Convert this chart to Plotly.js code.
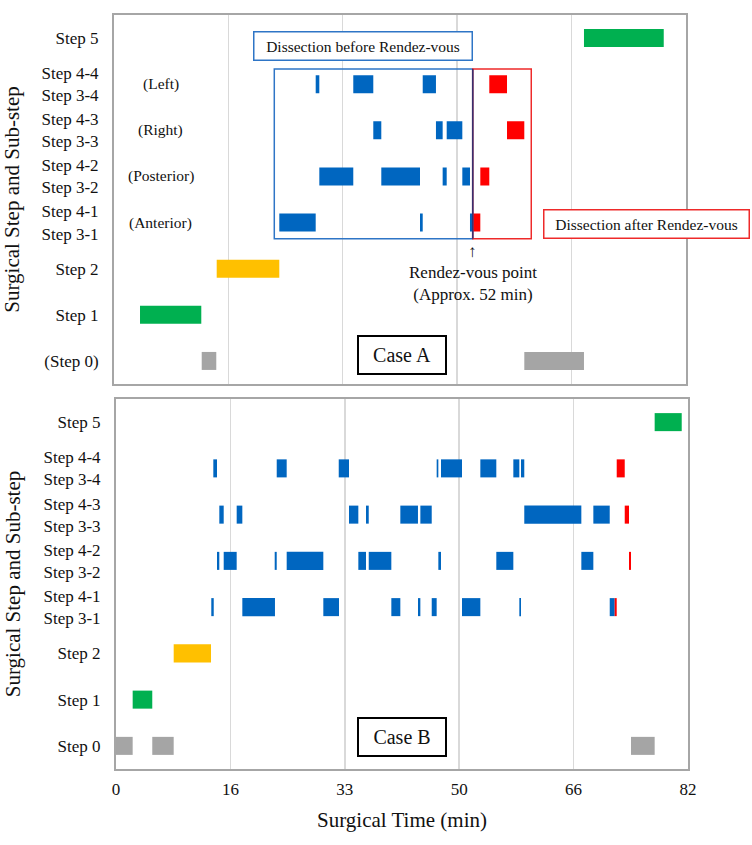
<!DOCTYPE html>
<html><head><meta charset="utf-8">
<script src="https://cdn.plot.ly/plotly-3.0.1.min.js"></script>
<style>html,body{margin:0;padding:0;background:#fff}#chart{width:752px;height:845px}</style>
</head><body><div id="chart"></div>
<script>
// ---------- categories / tick labels (rows bottom -> top) ----------
const rowIndex = [0, 1, 2, 3, 4, 5, 6, 7];
const rowLabelsA = ['(Step 0)', 'Step 1', 'Step 2', 'Step 4-1<br>Step 3-1', 'Step 4-2<br>Step 3-2', 'Step 4-3<br>Step 3-3', 'Step 4-4<br>Step 3-4', 'Step 5'];
const rowLabelsB = ['Step 0', 'Step 1', 'Step 2', 'Step 4-1<br>Step 3-1', 'Step 4-2<br>Step 3-2', 'Step 4-3<br>Step 3-3', 'Step 4-4<br>Step 3-4', 'Step 5'];
const sideRows = [3, 4, 5, 6];
const sideLabels = ['(Anterior)', '(Posterior)', '(Right)', '(Left)'];
const xTickVals = [0, 16.4, 32.8, 49.2, 65.6, 82];
const xTickText = ['0', '16', '33', '50', '66', '82'];
const rendezvousMin = 51.45;

// ---------- Case A segments (minutes) ----------
const aGrayRow = [0, 0];
const aGrayStart = [12.58, 58.85];
const aGrayEnd = [14.67, 67.41];
const aGreenRow = [1, 7];
const aGreenStart = [3.73, 67.41];
const aGreenEnd = [12.52, 78.85];
const aYellowRow = [2];
const aYellowStart = [14.73];
const aYellowEnd = [23.71];
const aBlueRow = [3, 6, 4, 6, 5, 4, 3, 6, 5, 4, 5, 4, 3];
const aBlueStart = [23.71, 28.93, 29.45, 34.32, 37.19, 38.34, 43.89, 44.28, 46.18, 47.14, 47.72, 49.96, 51.06];
const aBlueEnd = [28.93, 29.45, 34.32, 37.19, 38.34, 43.89, 44.28, 46.18, 47.14, 47.72, 49.96, 51.06, 51.45];
const aRedRow = [3, 4, 6, 5];
const aRedStart = [51.45, 52.54, 53.83, 56.37];
const aRedEnd = [52.54, 53.83, 56.37, 58.85];

// ---------- Case B segments (minutes) ----------
const bGrayRow = [0, 0, 0];
const bGrayStart = [0, 5.20, 73.83];
const bGrayEnd = [2.39, 8.27, 77.22];
const bGreenRow = [1, 7];
const bGreenStart = [2.39, 77.22];
const bGreenEnd = [5.20, 81.10];
const bYellowRow = [2];
const bYellowStart = [8.27];
const bYellowEnd = [13.62];
const bBlueRow = [
  3, 3, 3, 3, 3, 3, 3, 3, 3,
  4, 4, 4, 4, 4, 4, 4, 4, 4,
  5, 5, 5, 5, 5, 5, 5, 5,
  6, 6, 6, 6, 6, 6, 6, 6];
const bBlueStart = [
  13.66, 18.11, 29.72, 39.47, 43.29, 45.26, 49.60, 57.82, 70.78,
  14.48, 15.44, 22.75, 24.47, 34.74, 36.23, 46.21, 54.52, 66.71,
  14.81, 17.30, 33.40, 35.84, 40.76, 43.63, 58.53, 68.43,
  13.95, 23.04, 31.93, 45.97, 46.59, 52.23, 56.96, 58.06];
const bBlueEnd = [
  14.01, 22.79, 31.97, 40.76, 43.63, 45.97, 52.23, 58.06, 71.49,
  14.81, 17.30, 23.04, 29.72, 35.84, 39.47, 46.59, 56.96, 68.43,
  15.44, 18.11, 34.74, 36.23, 43.29, 45.26, 66.71, 70.78,
  14.48, 24.47, 33.40, 46.21, 49.60, 54.52, 57.82, 58.53];
const bRedRow = [3, 6, 5, 4];
const bRedStart = [71.49, 71.78, 72.93, 73.54];
const bRedEnd = [71.78, 72.93, 73.54, 73.83];

// ---------- styles ----------
const C = {gray: '#a5a5a5', green: '#00b050', yellow: '#ffc000', blue: '#0066c0', red: '#ff0000'};
const FONT = "'Liberation Serif', 'Times New Roman', Times, serif";
const TXT = '#111111';

function seg(rows, starts, ends, color, xa, ya) {
  return {
    type: 'bar', orientation: 'h',
    y: rows, base: starts, x: ends.map((e, i) => e - starts[i]),
    width: 0.39, marker: {color: color, line: {width: 0}},
    xaxis: xa, yaxis: ya, hoverinfo: 'skip', showlegend: false
  };
}

const traces = [
  seg(aGrayRow, aGrayStart, aGrayEnd, C.gray, 'x', 'y'),
  seg(aGreenRow, aGreenStart, aGreenEnd, C.green, 'x', 'y'),
  seg(aYellowRow, aYellowStart, aYellowEnd, C.yellow, 'x', 'y'),
  seg(aBlueRow, aBlueStart, aBlueEnd, C.blue, 'x', 'y'),
  seg(aRedRow, aRedStart, aRedEnd, C.red, 'x', 'y'),
  seg(bGrayRow, bGrayStart, bGrayEnd, C.gray, 'x2', 'y2'),
  seg(bGreenRow, bGreenStart, bGreenEnd, C.green, 'x2', 'y2'),
  seg(bYellowRow, bYellowStart, bYellowEnd, C.yellow, 'x2', 'y2'),
  seg(bBlueRow, bBlueStart, bBlueEnd, C.blue, 'x2', 'y2'),
  seg(bRedRow, bRedStart, bRedEnd, C.red, 'x2', 'y2')
];

// layout geometry (pixels -> paper)
const W = 752, H = 845, ML = 114, MR = 64, MT = 15, MB = 76;
const PW = W - ML - MR, PH = H - MT - MB;
const px = v => (v - ML) / PW;
const py = v => (H - MB - v) / PH;

function xAxis(showLabels, dom, anchor) {
  return {
    domain: dom, anchor: anchor, range: [0, 82],
    tickmode: 'array', tickvals: xTickVals, ticktext: xTickText,
    showticklabels: showLabels, ticks: '',
    tickfont: {family: FONT, size: 17, color: TXT},
    showgrid: true, gridcolor: '#d9d9d9', gridwidth: 1.5,
    showline: true, mirror: true, linecolor: '#a6a6a6', linewidth: 2,
    zeroline: false, fixedrange: true, automargin: false
  };
}
function yAxis(labels, dom, anchor) {
  return {
    domain: dom, anchor: anchor, range: [-0.5, 7.5],
    tickmode: 'array', tickvals: rowIndex, ticktext: labels,
    ticks: '', ticklabelstandoff: 10,
    tickfont: {family: FONT, size: 17, color: TXT},
    showgrid: false, showline: true, mirror: true, linecolor: '#a6a6a6', linewidth: 2,
    zeroline: false, fixedrange: true, automargin: false,
    title: {text: 'Surgical Step and Sub-step', font: {family: FONT, size: 21, color: TXT}, standoff: 17}
  };
}

const annotations = [];
sideRows.forEach((r, i) => annotations.push({
  xref: 'paper', yref: 'y', x: px(160.5), y: r, text: sideLabels[i], showarrow: false,
  xanchor: 'center', yanchor: 'middle', font: {family: FONT, size: 15.5, color: TXT}
}));
annotations.push(
  {xref: 'paper', yref: 'paper', x: px(363), y: py(45.8), text: 'Dissection before Rendez-vous',
   showarrow: false, xanchor: 'center', yanchor: 'middle', width: 214, height: 24, borderpad: 1.5,
   bordercolor: '#2e75c6', borderwidth: 1.5, bgcolor: '#ffffff', font: {family: FONT, size: 15.5, color: TXT}},
  {xref: 'paper', yref: 'paper', x: px(646.8), y: py(223.5), text: 'Dissection after Rendez-vous',
   showarrow: false, xanchor: 'center', yanchor: 'middle', width: 201, height: 24, borderpad: 1.5,
   bordercolor: '#ee2a2a', borderwidth: 1.5, bgcolor: '#ffffff', font: {family: FONT, size: 15.5, color: TXT}},
  {xref: 'x', yref: 'paper', x: rendezvousMin, y: py(252), text: '↑', showarrow: false,
   xanchor: 'center', yanchor: 'middle', font: {family: FONT, size: 17, color: TXT}},
  {xref: 'x', yref: 'paper', x: rendezvousMin, y: py(283), text: 'Rendez-vous point<br>(Approx. 52 min)', showarrow: false,
   xanchor: 'center', yanchor: 'middle', font: {family: FONT, size: 17, color: TXT}},
  {xref: 'paper', yref: 'paper', x: px(402.2), y: py(354.7), text: 'Case A', showarrow: false,
   xanchor: 'center', yanchor: 'middle', width: 83, height: 33, borderpad: 1.5,
   bordercolor: '#000000', borderwidth: 2, bgcolor: '#ffffff', font: {family: FONT, size: 20, color: TXT}},
  {xref: 'paper', yref: 'paper', x: px(402.2), y: py(736.7), text: 'Case B', showarrow: false,
   xanchor: 'center', yanchor: 'middle', width: 83, height: 33, borderpad: 1.5,
   bordercolor: '#000000', borderwidth: 2, bgcolor: '#ffffff', font: {family: FONT, size: 20, color: TXT}}
);

const shapes = [
  {type: 'rect', xref: 'x', yref: 'y', x0: 22.99, x1: rendezvousMin, y0: 2.65, y1: 6.33,
   line: {color: '#2e75c6', width: 1.5}, fillcolor: 'rgba(0,0,0,0)'},
  {type: 'rect', xref: 'x', yref: 'y', x0: rendezvousMin, x1: 59.85, y0: 2.65, y1: 6.33,
   line: {color: '#ee2a2a', width: 1.5}, fillcolor: 'rgba(0,0,0,0)'},
  {type: 'line', xref: 'x', yref: 'y', x0: rendezvousMin, x1: rendezvousMin, y0: 2.65, y1: 6.33,
   line: {color: '#3a2f6e', width: 1.5}}
];

const xa2 = xAxis(true, [2 / PW, 1], 'y2');
xa2.title = {text: 'Surgical Time (min)', font: {family: FONT, size: 21, color: TXT}, standoff: 14};
xa2.ticklabelstandoff = 4;

const layout = {
  width: W, height: H,
  margin: {l: ML, r: MR, t: MT, b: MB},
  paper_bgcolor: '#ffffff', plot_bgcolor: '#ffffff',
  barmode: 'overlay', showlegend: false,
  font: {family: FONT, color: TXT},
  xaxis: xAxis(false, [0, 571.7 / PW], 'y'),
  yaxis: yAxis(rowLabelsA, [py(384), py(15)], 'x'),
  xaxis2: xa2,
  yaxis2: yAxis(rowLabelsB, [py(769), py(399)], 'x2'),
  annotations: annotations,
  shapes: shapes
};

Plotly.newPlot('chart', traces, layout, {displayModeBar: false, staticPlot: true});
</script></body></html>
